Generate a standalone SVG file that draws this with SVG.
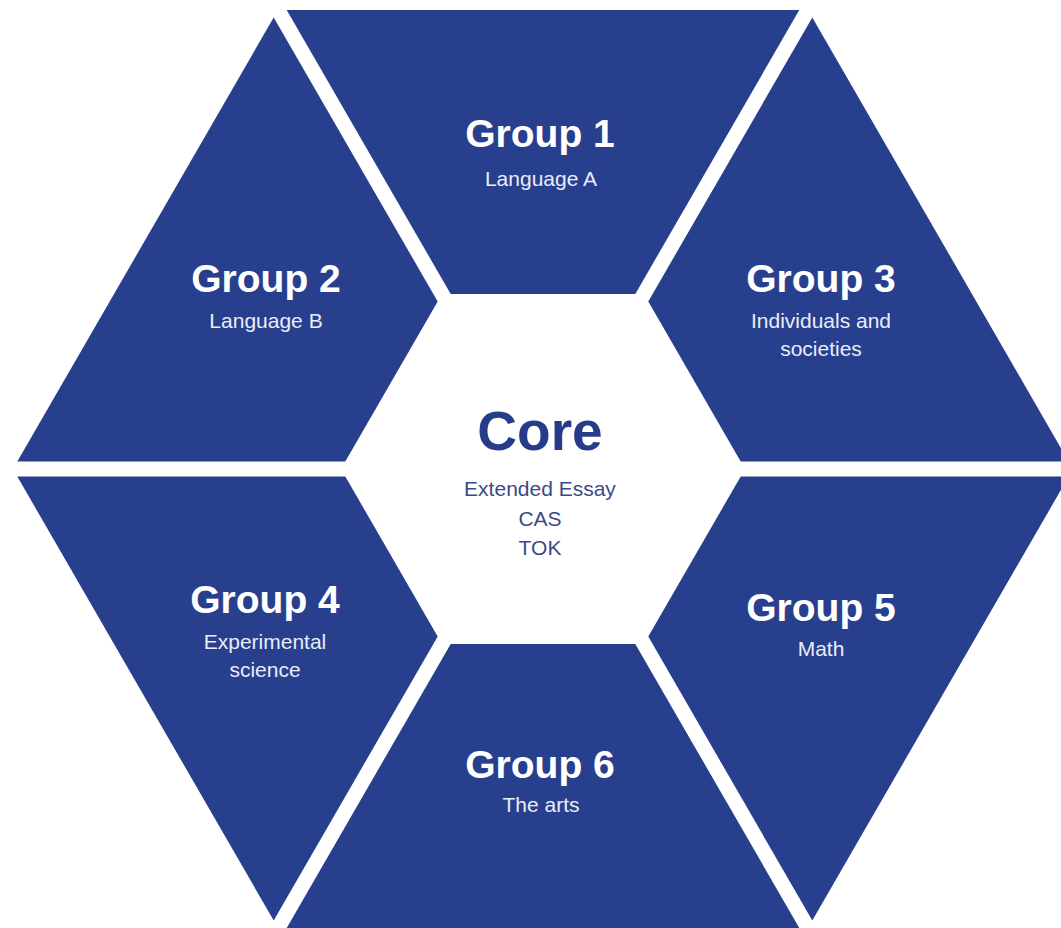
<svg xmlns="http://www.w3.org/2000/svg" width="1061" height="928" viewBox="0 0 1061 928">
<style>
.seg{fill:#283f8e}
.t{font-family:"Liberation Sans",Arial,sans-serif;font-weight:bold;font-size:39px;fill:#ffffff;text-anchor:middle}
.s{font-family:"Liberation Sans",Arial,sans-serif;font-size:21px;fill:#e9edf8;text-anchor:middle}
.ct{font-family:"Liberation Sans",Arial,sans-serif;font-weight:bold;font-size:55px;fill:#263c8a;text-anchor:middle}
.cs{font-family:"Liberation Sans",Arial,sans-serif;font-size:21px;fill:#3b4a86;text-anchor:middle}
</style>
<rect width="1061" height="928" fill="#ffffff"/>
<g id="group1">
<polygon class="seg" points="286.7,10 799.3,10 635.3,294 450.7,294"/>
<text class="t" x="540" y="147">Group 1</text>
<text class="s" x="541" y="186">Language A</text>
</g>
<g id="group2">
<polygon class="seg" points="273.7,17.5 17.3,461.5 345.3,461.5 437.7,301.5"/>
<text class="t" x="266" y="292">Group 2</text>
<text class="s" x="266" y="328">Language B</text>
</g>
<g id="group3">
<polygon class="seg" points="812.3,17.5 1068.7,461.5 740.7,461.5 648.3,301.5"/>
<text class="t" x="821" y="292">Group 3</text>
<text class="s" x="821" y="328">Individuals and</text>
<text class="s" x="821" y="356">societies</text>
</g>
<g id="core">
<text class="ct" x="540" y="450">Core</text>
<text class="cs" x="540" y="496">Extended Essay</text>
<text class="cs" x="540" y="526">CAS</text>
<text class="cs" x="540" y="555">TOK</text>
</g>
<g id="group4">
<polygon class="seg" points="17.3,476.5 273.7,920.5 437.7,636.5 345.3,476.5"/>
<text class="t" x="265" y="613">Group 4</text>
<text class="s" x="265" y="649">Experimental</text>
<text class="s" x="265" y="677">science</text>
</g>
<g id="group5">
<polygon class="seg" points="1068.7,476.5 812.3,920.5 648.3,636.5 740.7,476.5"/>
<text class="t" x="821" y="621">Group 5</text>
<text class="s" x="821" y="656">Math</text>
</g>
<g id="group6">
<polygon class="seg" points="450.7,644 635.3,644 799.3,928 286.7,928"/>
<text class="t" x="540" y="778">Group 6</text>
<text class="s" x="541" y="812">The arts</text>
</g>
<g id="connectors"/>
</svg>
